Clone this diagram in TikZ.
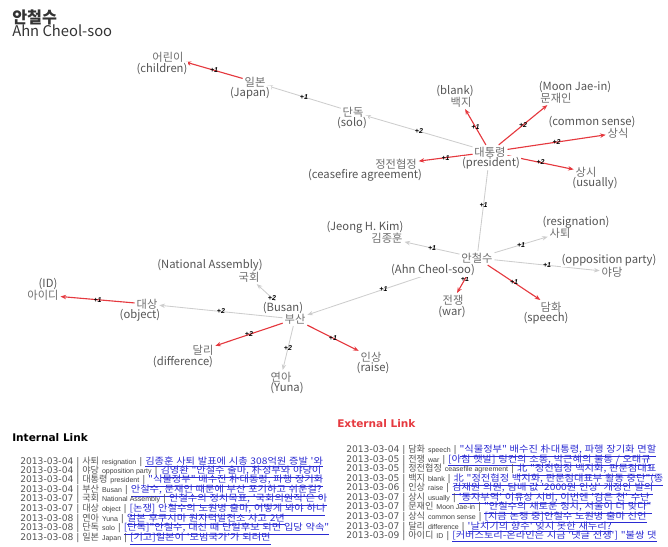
\documentclass[tikz,border=0pt]{standalone}
\usepackage{fontspec}
\setmainfont{Noto Sans CJK KR}
\newfontfamily\numfont{Liberation Sans}
\newfontfamily\headfont{DejaVu Sans}
\newfontfamily\linkfont[FakeStretch=1.12,WordSpace=1.2]{Noto Sans CJK KR}
\usetikzlibrary{arrows.meta, backgrounds}
\definecolor{lgray}{HTML}{CDCDCD}
\definecolor{lred}{HTML}{E5393F}
\definecolor{ltext}{HTML}{555555}
\definecolor{lblue}{HTML}{2B2BD2}
\tikzset{
  >={Stealth[length=1.4mm,width=1.1mm]},
  kw/.style={text=ltext!85, font=\fontsize{8}{9}\selectfont, inner sep=1.2pt},
  en/.style={text=ltext, font=\fontsize{8}{9}\selectfont, inner sep=0.6pt, fill=white},
  gedge/.style={->, draw=lgray, line width=0.6pt},
  redge/.style={->, draw=lred, line width=0.8pt},
  elab/.style={font=\numfont\fontsize{5}{5}\selectfont\bfseries\itshape, inner sep=0pt},
  row/.style={anchor=west, inner sep=0pt, font=\headfont\fontsize{6.5}{7}\selectfont, text=ltext},
  head/.style={anchor=west, inner sep=0pt, font=\headfont\fontsize{7.5}{8}\selectfont\bfseries}
}
\newcommand{\lrow}[4]{#1 | {\rmfamily\fontsize{6.5}{7}\selectfont #2} {\numfont\fontsize{5}{5}\selectfont\color{black!75}#3} | {\linkfont\fontsize{6.5}{7}\selectfont\textcolor{lblue}{\underline{#4}}}}

\begin{document}
\begin{tikzpicture}[x=0.025cm, y=-0.025cm]
  \useasboundingbox (0,0) rectangle (668,546);
  % title
  \node[anchor=west, inner sep=0pt, text=black!80, font=\fontsize{11.5}{12}\selectfont\bfseries] (title) at (12,17) {안철수};
  \node[anchor=west, inner sep=0pt, text=black!80, font=\fontsize{10.5}{11}\selectfont] (titleen) at (12,31) {Ahn Cheol-soo};

  % keywords (gloss first, word on top of it)
  \node[en] (chien) at (162,69) {(children)};
  \node[kw] (chi) at (168,57) {어린이};
  \node[en] (japen) at (250,93) {(Japan)};
  \node[kw] (jap) at (255,82) {일본};
  \node[en] (soloen) at (352,123) {(solo)};
  \node[kw] (solo) at (353,112) {단독};
  \node[en] (presen) at (491,163) {(president)};
  \node[kw] (pres) at (490,152) {대통령};
  \node[en] (blanken) at (455,91) {(blank)};
  \node[kw] (blank) at (461,102) {백지};
  \node[en] (moonen) at (575,87) {(Moon Jae-in)};
  \node[kw] (moon) at (556,98) {문재인};
  \node[en] (senseen) at (592,122) {(common sense)};
  \node[kw] (sense) at (618,133) {상식};
  \node[en] (ceaseen) at (365,175) {(ceasefire agreement)};
  \node[kw] (cease) at (396,164) {정전협정};
  \node[en] (usualen) at (595,183) {(usually)};
  \node[kw] (usual) at (586,172) {상시};
  \node[en] (ahnen) at (433,270) {(Ahn Cheol-soo)};
  \node[kw] (ahn) at (477,258) {안철수};
  \node[en] (kimen) at (365,227) {(Jeong H. Kim)};
  \node[kw] (kim) at (387,238) {김종훈};
  \node[en] (resignen) at (576,222) {(resignation)};
  \node[kw] (resign) at (560,233) {사퇴};
  \node[en] (oppen) at (609,260) {(opposition party)};
  \node[kw] (opp) at (612,272) {야당};
  \node[en] (waren) at (452,312) {(war)};
  \node[kw] (war) at (453,300) {전쟁};
  \node[en] (speechen) at (546,318) {(speech)};
  \node[kw] (speech) at (551,307) {담화};
  \node[en] (busanen) at (283,308) {(Busan)};
  \node[kw] (busan) at (295,319) {부산};
  \node[en] (assemen) at (210,265) {(National Assembly)};
  \node[kw] (assem) at (249,277) {국회};
  \node[en] (objen) at (140,315) {(object)};
  \node[kw] (obj) at (147,304) {대상};
  \node[en] (iden) at (48,284) {(ID)};
  \node[kw] (id) at (43,295) {아이디};
  \node[en] (diffen) at (183,362) {(difference)};
  \node[kw] (diff) at (203,350) {달리};
  \node[en] (yunaen) at (287,388) {(Yuna)};
  \node[kw] (yuna) at (281,377) {연아};
  \node[en] (raiseen) at (373,368) {(raise)};
  \node[kw] (raise) at (371,357) {인상};

  % links
  \begin{scope}[on background layer]
    \draw[redge] (jap) -- node[elab]{+1} (chi);
    \draw[gedge] (solo) -- node[elab]{+1} (jap);
    \draw[gedge] (pres) -- node[elab]{+2} (solo);
    \draw[redge] (pres) -- node[elab]{+1} (blank);
    \draw[redge] (pres) -- node[elab]{+2} (moon);
    \draw[redge] (pres) -- node[elab]{+2} (sense);
    \draw[redge] (pres) -- node[elab]{+1} (cease);
    \draw[redge] (pres) -- node[elab]{+2} (usual);
    \draw[gedge] (ahn) -- node[elab]{+1} (pres);
    \draw[gedge] (ahn) -- node[elab]{+1} (kim);
    \draw[gedge] (ahn) -- node[elab]{+1} (resign);
    \draw[gedge] (ahn) -- node[elab]{+1} (opp);
    \draw[redge] (ahn) -- node[elab]{+1} (war);
    \draw[redge] (ahn) -- node[elab]{+1} (speech);
    \draw[gedge] (ahn) -- node[elab]{+1} (busan);
    \draw[gedge] (busan) -- node[elab]{+2} (assem);
    \draw[gedge] (busan) -- node[elab]{+2} (obj);
    \draw[redge] (obj) -- node[elab]{+1} (id);
    \draw[redge] (busan) -- node[elab]{+2} (diff);
    \draw[gedge] (busan) -- node[elab]{+2} (yuna);
    \draw[redge] (busan) -- node[elab]{+1} (raise);
  \end{scope}

  % lists
  \node[head, text=lred] (exthead) at (337,424) {External Link};
  \node[head, text=black] (inthead) at (12,438) {Internal Link};
  \begin{scope}
    \clip (0,450) rectangle (335,546);
    \node[row] (int1) at (20,462) {\lrow{2013-03-04}{사퇴}{resignation}{김종훈 사퇴 발표에 시총 308억원 증발 '와}};
    \node[row] (int2) at (20,471.6) {\lrow{2013-03-04}{야당}{opposition party}{김영환 "안철수 출마, 朴정부와 야당이}};
    \node[row] (int3) at (20,481.2) {\lrow{2013-03-04}{대통령}{president}{"식물정부" 배수진 朴대통령, 파행 장기화}};
    \node[row] (int4) at (20,490.8) {\lrow{2013-03-04}{부산}{Busan}{안철수, 문재인 때문에 부산 포기하고 쉬운길?}};
    \node[row] (int5) at (20,500.4) {\lrow{2013-03-07}{국회}{National Assembly}{안철수의 정치목표, '국회의원직'은 아}};
    \node[row] (int6) at (20,510) {\lrow{2013-03-07}{대상}{object}{[논쟁] 안철수의 노원병 출마, 어떻게 봐야 하나}};
    \node[row] (int7) at (20,519.6) {\lrow{2013-03-08}{연아}{Yuna}{일본 후쿠시마 원자력발전소 사고 2년}};
    \node[row] (int8) at (20,529.2) {\lrow{2013-03-08}{단독}{solo}{[단독]"안철수, 대선 때 단일후보 되면 입당 약속"}};
    \node[row] (int9) at (20,538.8) {\lrow{2013-03-08}{일본}{Japan}{[기고]일본이 '모범국가'가 되려면}};
  \end{scope}
  \begin{scope}
    \clip (336,440) rectangle (668,546);
    \node[row] (ext1) at (346,451) {\lrow{2013-03-04}{담화}{speech}{"식물정부" 배수진 朴대통령, 파행 장기화 면할}};
    \node[row] (ext2) at (346,460.5) {\lrow{2013-03-05}{전쟁}{war}{[아침 햇발] 링컨의 소통, 박근혜의 불통 / 오태규}};
    \node[row] (ext3) at (346,470) {\lrow{2013-03-05}{정전협정}{ceasefile agreement}{北 "정전협정 백지화, 판문점대표}};
    \node[row] (ext4) at (346,479.5) {\lrow{2013-03-05}{백지}{blank}{北 "정전협정 백지화, 판문점대표부 활동 중단"(종}};
    \node[row] (ext5) at (346,489) {\lrow{2013-03-06}{인상}{raise}{김재원 의원, 담배 값 '2000원 인상' 개정안 발의}};
    \node[row] (ext6) at (346,498.5) {\lrow{2013-03-07}{상시}{usually}{'동자부역' 이유상 시비, 이번엔 '검은 천' 수난}};
    \node[row] (ext7) at (346,508) {\lrow{2013-03-07}{문재인}{Moon Jae-in}{"안철수의 새로운 정치, 서울이 더 맞다"}};
    \node[row] (ext8) at (346,517.5) {\lrow{2013-03-07}{상식}{common sense}{[지금 논쟁 중]안철수 노원병 출마 선언}};
    \node[row] (ext9) at (346,527) {\lrow{2013-03-07}{달리}{difference}{'날치기의 향수' 잊지 못한 새누리?}};
    \node[row] (ext10) at (346,536.5) {\lrow{2013-03-09}{아이디}{ID}{[커버스토리-온라인은 지금 '댓글 전쟁'] "불쌍 댓}};
  \end{scope}
\end{tikzpicture}
\end{document}
